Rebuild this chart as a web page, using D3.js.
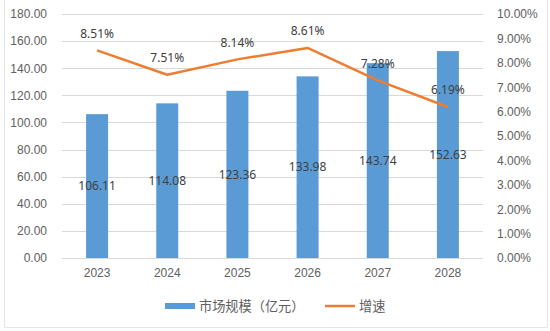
<!DOCTYPE html>
<html>
<head>
<meta charset="utf-8">
<script src="https://cdn.jsdelivr.net/npm/d3@7/dist/d3.min.js"></script>
<style>
  html, body { margin: 0; padding: 0; background: #fff; }
  svg { display: block; font-family: "Noto Sans", "Noto Sans CJK SC", sans-serif; }
</style>
</head>
<body>
<svg id="chart" width="550" height="331"></svg>
<script>
// Market size (100 million CNY) and growth rate per year
const years = ["2023", "2024", "2025", "2026", "2027", "2028"];
const marketSize = [106.11, 114.08, 123.36, 133.98, 143.74, 152.63];
const growthRate = [8.51, 7.51, 8.14, 8.61, 7.28, 6.19];
const leftTicks = [0, 20, 40, 60, 80, 100, 120, 140, 160, 180];
const rightTicks = [0, 1, 2, 3, 4, 5, 6, 7, 8, 9, 10];
const legendLabels = ["市场规模（亿元）", "增速"];

const BLUE = "#5b9bd5", ORANGE = "#ed7d31", TEXT = "#606060", GRID = "#d9d9d9";
const FS = "12px";
const LEGEND_FS = "13.2px";

const svg = d3.select("#chart");
const plot = { left: 62, right: 483, top: 14, bottom: 258 };

// frame
svg.append("path")
  .attr("d", `M4.5,0 V327.5 H547.5 V0`)
  .attr("fill", "none").attr("stroke", "#e6e6e6").attr("stroke-width", 1);

const x = d3.scaleBand().domain(years).range([plot.left, plot.right]);
const yL = d3.scaleLinear().domain([0, 180]).range([plot.bottom, plot.top]);
const yR = d3.scaleLinear().domain([0, 10]).range([plot.bottom, plot.top]);

// gridlines
svg.append("g").selectAll("line").data(leftTicks).join("line")
  .attr("x1", plot.left).attr("x2", plot.right)
  .attr("y1", d => Math.round(yL(d)) + 0.5).attr("y2", d => Math.round(yL(d)) + 0.5)
  .attr("stroke", GRID).attr("stroke-width", 1);

// left axis
const leftAxis = svg.append("g").attr("transform", `translate(${plot.left},0)`)
  .call(d3.axisLeft(yL).tickValues(leftTicks).tickFormat(d3.format(".2f")).tickSize(0).tickPadding(15));
leftAxis.select(".domain").remove();
leftAxis.selectAll("text").attr("fill", TEXT).style("font-size", FS);

// right axis
const rightAxis = svg.append("g").attr("transform", `translate(${plot.right},0)`)
  .call(d3.axisRight(yR).tickValues(rightTicks).tickFormat(d => d.toFixed(2) + "%").tickSize(0).tickPadding(14));
rightAxis.select(".domain").remove();
rightAxis.selectAll("text").attr("fill", TEXT).style("font-size", FS);

// bottom axis
const bottomAxis = svg.append("g").attr("transform", `translate(0,${plot.bottom})`)
  .call(d3.axisBottom(x).tickSize(0).tickPadding(10));
bottomAxis.select(".domain").remove();
bottomAxis.selectAll("text").attr("fill", TEXT).style("font-size", FS);

// bars
const barW = 22;
svg.append("g").selectAll("rect").data(marketSize).join("rect")
  .attr("x", (d, i) => x(years[i]) + x.bandwidth() / 2 - barW / 2)
  .attr("width", barW)
  .attr("y", d => yL(d))
  .attr("height", d => plot.bottom - yL(d))
  .attr("fill", BLUE);

// bar value labels
svg.append("g").selectAll("text").data(marketSize).join("text")
  .attr("x", (d, i) => x(years[i]) + x.bandwidth() / 2)
  .attr("y", d => (yL(d) + plot.bottom) / 2)
  .attr("dy", "0.35em")
  .attr("text-anchor", "middle")
  .attr("fill", "#404040").style("font-size", FS)
  .text(d => d.toFixed(2));

// growth line
const line = d3.line()
  .x((d, i) => x(years[i]) + x.bandwidth() / 2)
  .y(d => yR(d));
svg.append("path").datum(growthRate)
  .attr("d", line).attr("fill", "none")
  .attr("stroke", ORANGE).attr("stroke-width", 2.5).attr("stroke-linejoin", "round");

// growth labels
svg.append("g").selectAll("text").data(growthRate).join("text")
  .attr("x", (d, i) => x(years[i]) + x.bandwidth() / 2)
  .attr("y", d => yR(d) - 17)
  .attr("dy", "0.35em")
  .attr("text-anchor", "middle")
  .attr("fill", "#404040").style("font-size", FS)
  .text(d => d.toFixed(2) + "%");

// legend
const lg = svg.append("g").attr("transform", "translate(0,306)");
lg.append("rect").attr("x", 165).attr("y", -3).attr("width", 30).attr("height", 6).attr("fill", BLUE);
lg.append("text").attr("x", 199).attr("dy", "0.35em").attr("fill", TEXT).style("font-size", LEGEND_FS).text(legendLabels[0]);
lg.append("line").attr("x1", 325).attr("x2", 355).attr("y1", 0).attr("y2", 0).attr("stroke", ORANGE).attr("stroke-width", 2.5);
lg.append("text").attr("x", 359).attr("dy", "0.35em").attr("fill", TEXT).style("font-size", LEGEND_FS).text(legendLabels[1]);
</script>
</body>
</html>
